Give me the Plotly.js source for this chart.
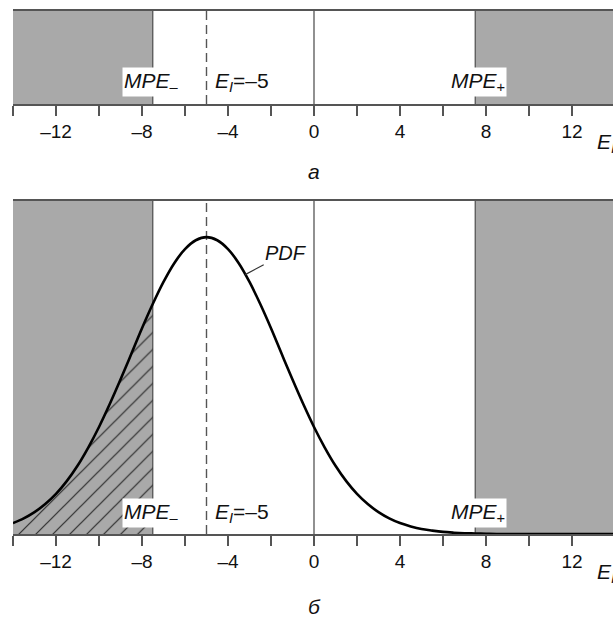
<!DOCTYPE html>
<html>
<head>
<meta charset="utf-8">
<script src="https://cdn.plot.ly/plotly-3.0.1.min.js"></script>
<style>
html, body { margin:0; padding:0; overflow:hidden; background:#fff; }
#chart { width:640px; height:618px; }
</style>
</head>
<body>
<div id="chart"></div>
<script>
// ---- data ----
const errX = [-14, -13.5, -13, -12.5, -12, -11.5, -11, -10.5, -10, -9.5, -9, -8.5, -8, -7.5, -7, -6.5, -6, -5.5, -5, -4.5, -4, -3.5, -3, -2.5, -2, -1.5, -1, -0.5, 0, 0.5, 1, 1.5, 2, 2.5, 3, 3.5, 4, 4.5, 5, 5.5, 6, 6.5, 7, 7.5, 8, 8.5, 9, 9.5, 10, 10.5, 11, 11.5, 12, 12.5, 13, 13.5, 14];
const pdfY = [0.0042, 0.0060, 0.0084, 0.0115, 0.0154, 0.0203, 0.0262, 0.0332, 0.0411, 0.0499, 0.0593, 0.0691, 0.0790, 0.0883, 0.0968, 0.1040, 0.1094, 0.1128, 0.1140, 0.1128, 0.1094, 0.1040, 0.0968, 0.0883, 0.0790, 0.0691, 0.0593, 0.0499, 0.0411, 0.0332, 0.0262, 0.0203, 0.0154, 0.0115, 0.0084, 0.0060, 0.0042, 0.0029, 0.0019, 0.0013, 0.0008, 0.0005, 0.0003, 0.0002, 0.0001, 0, 0, 0, 0, 0, 0, 0, 0, 0, 0, 0, 0];
const mpeLimits = [-7.5, 7.5];
const errorMean = -5;
const tickVals  = [-12, -8, -4, 0, 4, 8, 12];
const tickText  = ['–12', '–8', '–4', '0', '4', '8', '12'];
const xRange = [-14, 14];

// ---- style ----
const FONT = '"Liberation Sans", Arial, sans-serif';
const GREY = '#a9a9a9';
const LINE = '#555555';

const hatchX = [], hatchY = [];
errX.forEach((x, i) => { if (x <= mpeLimits[0]) { hatchX.push(x); hatchY.push(pdfY[i]); } });

const traces = [
  { x: hatchX, y: hatchY, xaxis: 'x', yaxis: 'y', type: 'scatter', mode: 'lines',
    line: { width: 0, shape: 'spline', smoothing: 1 }, fill: 'tozeroy',
    fillcolor: 'rgba(0,0,0,0)',
    fillpattern: { shape: '/', fgcolor: '#2a2a2a', bgcolor: 'rgba(0,0,0,0)', size: 12, solidity: 0.1 },
    hoverinfo: 'skip', showlegend: false },
  { x: errX, y: pdfY, xaxis: 'x', yaxis: 'y', type: 'scatter', mode: 'lines',
    line: { color: '#000', width: 2.6, shape: 'spline', smoothing: 1 },
    hoverinfo: 'skip', showlegend: false },
  { x: [xRange[0]], y: [0], xaxis: 'x2', yaxis: 'y2', type: 'scatter', mode: 'markers',
    marker: { opacity: 0 }, hoverinfo: 'skip', showlegend: false }
];

function panelShapes(xr, yr) {
  const yd = yr + ' domain';
  return [
    { type: 'rect', xref: xr, yref: yd, x0: xRange[0], x1: mpeLimits[0], y0: 0, y1: 1, fillcolor: GREY, line: { width: 0 }, layer: 'below' },
    { type: 'rect', xref: xr, yref: yd, x0: mpeLimits[1], x1: xRange[1], y0: 0, y1: 1, fillcolor: GREY, line: { width: 0 }, layer: 'below' },
    { type: 'line', xref: xr, yref: yd, x0: mpeLimits[0], x1: mpeLimits[0], y0: 0, y1: 1, line: { color: LINE, width: 1.3 }, layer: 'below' },
    { type: 'line', xref: xr, yref: yd, x0: mpeLimits[1], x1: mpeLimits[1], y0: 0, y1: 1, line: { color: LINE, width: 1.3 }, layer: 'below' },
    { type: 'line', xref: xr, yref: yd, x0: 0, x1: 0, y0: 0, y1: 1, line: { color: LINE, width: 1.3 }, layer: 'below' },
    { type: 'line', xref: xr, yref: yd, x0: errorMean, x1: errorMean, y0: 0, y1: 1, line: { color: '#555', width: 1.4, dash: '9px,5px' }, layer: 'below' }
  ];
}

function panelLabels(xr, yr, yFrac) {
  const yd = yr + ' domain';
  const f = { family: FONT, size: 21, color: '#111' };
  return [
    { xref: xr, yref: yd, x: mpeLimits[0], y: yFrac, xanchor: 'center', yanchor: 'middle', xshift: -1,
      text: '<i>MPE</i><sub>–</sub>', showarrow: false, bgcolor: '#fff', borderpad: 1, font: f },
    { xref: xr, yref: yd, x: mpeLimits[1], y: yFrac, xanchor: 'center', yanchor: 'middle', xshift: 3,
      text: '<i>MPE</i><sub>+</sub>', showarrow: false, bgcolor: '#fff', borderpad: 1, font: f },
    { xref: xr, yref: yd, x: errorMean, y: yFrac, xanchor: 'left', yanchor: 'middle', xshift: 6,
      text: '<i>E<sub>I</sub></i>=–5', showarrow: false, font: f }
  ];
}

const axisCommon = {
  range: xRange, tickmode: 'array', tickvals: tickVals, ticktext: tickText,
  ticks: 'outside', ticklen: 10, tickwidth: 1.2, tickcolor: LINE,
  minor: { ticks: 'outside', ticklen: 10, tickwidth: 1.2, tickcolor: LINE, dtick: 2, tick0: 0, showgrid: false },
  showline: true, linecolor: LINE, linewidth: 1.5, mirror: true,
  showgrid: false, zeroline: false, fixedrange: true,
  tickfont: { family: FONT, size: 19, color: '#111' }
};

const layout = {
  width: 640, height: 618,
  margin: { l: 13, r: 25, t: 0, b: 84 },
  paper_bgcolor: '#fff', plot_bgcolor: '#fff',
  font: { family: FONT },
  xaxis: Object.assign({}, axisCommon, { anchor: 'y' }),
  yaxis: { domain: [0, 0.6242], range: [0, 0.128], visible: false, fixedrange: true },
  xaxis2: Object.assign({}, axisCommon, { anchor: 'y2' }),
  yaxis2: { domain: [0.8052, 0.98], range: [0, 1], visible: false, fixedrange: true },
  shapes: panelShapes('x2', 'y2').concat(panelShapes('x', 'y')),
  annotations: panelLabels('x2', 'y2', 0.241).concat(panelLabels('x', 'y', 0.063)).concat([
    { xref: 'x2', yref: 'paper', x: 0, y: 0.678, xanchor: 'center', yanchor: 'middle',
      text: '<i>а</i>', showarrow: false, font: { family: FONT, size: 21, color: '#111' } },
    { xref: 'x', yref: 'paper', x: 0, y: -0.1367, xanchor: 'center', yanchor: 'middle',
      text: '<i>б</i>', showarrow: false, font: { family: FONT, size: 21, color: '#111' } },
    { xref: 'paper', yref: 'paper', x: 0.9668, y: 0.732, xanchor: 'left', yanchor: 'middle',
      text: '<i>E<sub>I</sub></i>', showarrow: false, font: { family: FONT, size: 21, color: '#111' } },
    { xref: 'paper', yref: 'paper', x: 0.9668, y: -0.073, xanchor: 'left', yanchor: 'middle',
      text: '<i>E<sub>I</sub></i>', showarrow: false, font: { family: FONT, size: 21, color: '#111' } },
    { xref: 'x', yref: 'y', x: -3.2, y: 0.0996, ax: 41, ay: -22,
      text: '<i>PDF</i>', showarrow: true, arrowhead: 0, arrowwidth: 1.2, arrowcolor: '#333', standoff: 0,
      font: { family: FONT, size: 20, color: '#111' } }
  ])
};

Plotly.newPlot('chart', traces, layout, { displayModeBar: false, staticPlot: true });
</script>
</body>
</html>
